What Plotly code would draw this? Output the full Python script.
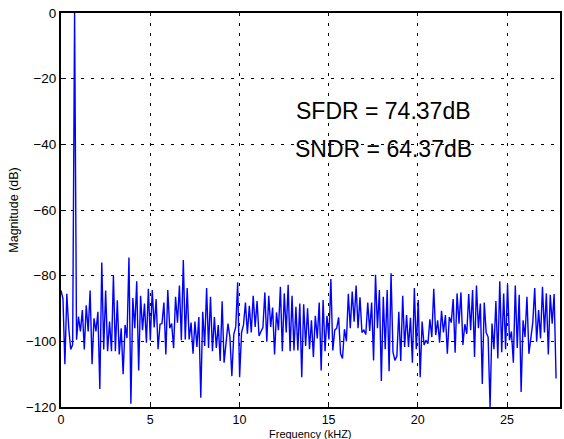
import plotly.graph_objects as go

# Spectrum magnitude (dB), one value per FFT bin
magnitude_db = [
    -84.5, -87, -107, -85.5, -96, -102.5, -101, 0, -99.5, -92.5,
    -97, -90.5, -102.5, -89, -97, -84.5, -107, -93, -97, -91,
    -114.5, -76, -102.5, -84.5, -103, -94, -103, -80, -103, -87.5,
    -104, -96, -110, -95, -99, -74.5, -119, -86.8, -96, -81.7,
    -108.9, -86.1, -96.6, -88.5, -100.4, -84, -99.7, -84.4, -95.8, -87.1,
    -102.4, -94.8, -94.6, -88.2, -104, -84.4, -96, -94.6, -102.1, -86.4,
    -94.3, -83, -99.7, -75.2, -99.4, -83.8, -99.4, -94.3, -103.8, -94,
    -101.7, -92.6, -117.2, -91, -101.4, -83.8, -102, -86.4, -103, -92.6,
    -102, -95, -106, -87.8, -106.5, -101.4, -94.6, -98.7, -110.6, -97.9,
    -95.6, -82, -110.9, -97.3, -95, -88.2, -97.7, -89.2, -97.3, -86.1,
    -95.6, -87.7, -98.4, -97, -95.8, -85.1, -100.1, -86.1, -95.6, -89.7,
    -104, -91.2, -96.6, -83.4, -103, -85.4, -97.3, -82.8, -103, -86.1,
    -102.8, -89.5, -102.8, -88.5, -110.9, -88.7, -101.4, -89.9, -102.4, -93.6,
    -104.8, -92.2, -99.1, -88.2, -108.9, -87.4, -103, -92.2, -99.4, -81,
    -102.8, -96.6, -96, -92.7, -103.8, -105.2, -96.3, -100, -85.5, -96,
    -84.8, -94, -83, -96, -86.6, -97.3, -96.6, -97.9, -88.2, -96.8,
    -88.2, -105.8, -79.7, -96, -84.4, -112.1, -86.4, -102.4, -84.4, -109.1,
    -79.3, -103.3, -105.8, -104.5, -91, -106, -86.1, -101.7, -92, -101.7,
    -92.8, -106.5, -83.8, -102.4, -87.4, -110.9, -94, -101.1, -99.7, -100.7,
    -93.3, -98.7, -84, -98.1, -93.6, -100.4, -90.7, -97.3, -92, -103.8,
    -92.6, -94.3, -87.1, -103.5, -85.4, -94.6, -85.1, -101.1, -94.8, -97.7,
    -85.6, -96.6, -84.4, -104.8, -83, -96, -88.5, -113, -88.2, -97.3,
    -98.7, -120, -94.6, -102.4, -87.7, -105.2, -81.7, -103.3, -85.4, -102.4,
    -82.6, -99.7, -97, -106.5, -83, -102, -85.8, -115.4, -93.6, -98.7,
    -86.4, -103.8, -98.4, -94.3, -83.8, -100.1, -90.5, -99.1, -83.4, -97.3,
    -85.4, -104, -85.8, -94.6, -85.6, -111.3,
]

# Frequency bins (kHz): uniform grid up to the last bin
last_bin_khz = 27.75
freq_khz = [i * last_bin_khz / (len(magnitude_db) - 1) for i in range(len(magnitude_db))]

x_ticks = [0, 5, 10, 15, 20, 25]
y_ticks = [-120, -100, -80, -60, -40, -20, 0]

annotation_lines = ["SFDR = 74.37dB", "SNDR = 64.37dB"]
annotation_x = 18.05
annotation_y = [-29.9, -41.3]

FONT = "Liberation Sans, Arial, Helvetica, sans-serif"

fig = go.Figure()
fig.add_trace(go.Scatter(
    x=freq_khz, y=magnitude_db, mode="lines",
    line=dict(color="#0000ff", width=1.4),
    showlegend=False,
))

for txt, yv in zip(annotation_lines, annotation_y):
    fig.add_annotation(x=annotation_x, y=yv, text=txt, showarrow=False,
                       xanchor="center", yanchor="middle",
                       font=dict(family=FONT, size=23, color="black"))

# x-axis title as a paper annotation just below the tick labels
fig.add_annotation(x=0.5, y=0, xref="paper", yref="paper",
                   text="Frequency (kHZ)", showarrow=False,
                   xanchor="center", yanchor="top", yshift=-20, borderpad=0,
                   font=dict(family=FONT, size=11, color="black"))

axis_common = dict(
    showline=True, linecolor="black", linewidth=2, mirror=True,
    ticks="inside", ticklen=5, tickcolor="black", tickwidth=1,
    showgrid=True, gridcolor="black", gridwidth=1, griddash="3px,7px",
    zeroline=False,
)

fig.update_xaxes(range=[0, 27.97], tickvals=x_ticks, **axis_common,
                 tickfont=dict(family=FONT, size=12.5, color="black"))
fig.update_yaxes(range=[-120, 0], tickvals=y_ticks, **axis_common,
                 tickfont=dict(family=FONT, size=13.5, color="black"),
                 title=dict(text="Magnitude (dB)", standoff=5,
                            font=dict(family=FONT, size=12.5, color="black")))

fig.update_layout(
    width=564, height=439,
    margin=dict(l=61, r=4, t=13, b=32, autoexpand=False),
    paper_bgcolor="white", plot_bgcolor="white",
    font=dict(family=FONT, color="black"),
)

fig.write_html("out.html",
               config={"displayModeBar": False},
               post_script="document.body.style.margin='0px';document.body.style.overflow='hidden';")
